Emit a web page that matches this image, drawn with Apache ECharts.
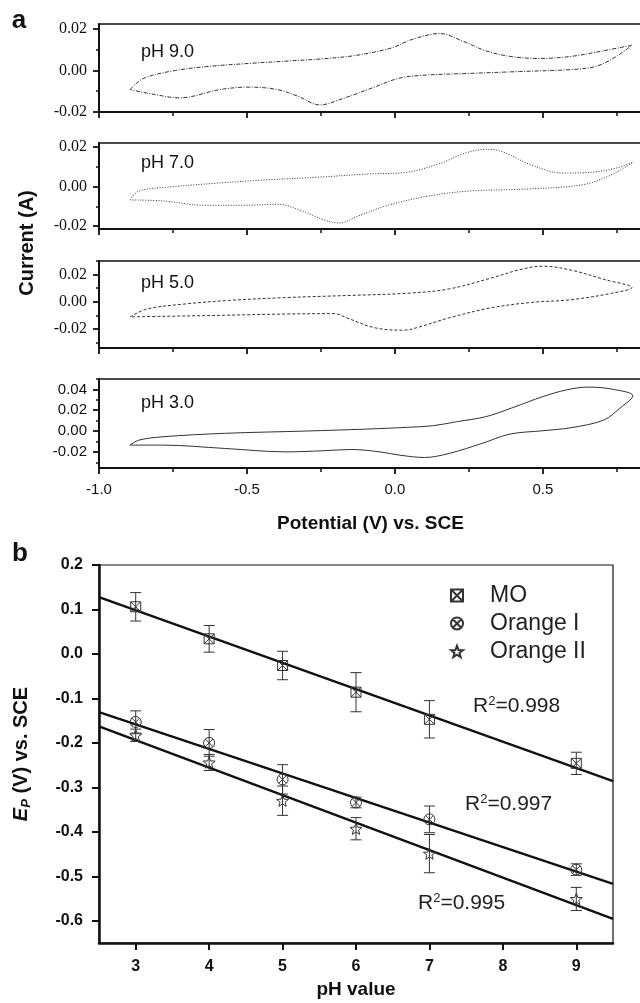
<!DOCTYPE html>
<html><head><meta charset="utf-8">
<script src="https://cdn.jsdelivr.net/npm/echarts@6/dist/echarts.min.js"></script>
<style>html,body{margin:0;padding:0;background:#fff}#c{width:640px;height:1003px}</style>
</head><body><div id="c"></div>
<script>
// ---------- Panel a: cyclic voltammograms [potential V, current A], loop order ----------
const cvPH9 = [[-0.895,-0.0092],[-0.851,-0.0039],[-0.742,0.0000],[-0.618,0.0021],[-0.493,0.0034],[-0.368,0.0045],[-0.247,0.0056],[-0.135,0.0072],[-0.010,0.0109],[0.057,0.0149],[0.152,0.0178],[0.230,0.0141],[0.311,0.0093],[0.399,0.0066],[0.490,0.0058],[0.601,0.0069],[0.716,0.0098],[0.801,0.0122],
  [0.750,0.0069],[0.682,0.0021],[0.601,0.0005],[0.422,-0.0005],[0.253,-0.0014],[0.084,-0.0024],[0.007,-0.0040],[-0.084,-0.0088],[-0.186,-0.0140],[-0.253,-0.0166],[-0.328,-0.0124],[-0.397,-0.0092],[-0.493,-0.0080],[-0.591,-0.0092],[-0.728,-0.0132],[-0.811,-0.0116],[-0.895,-0.0092]];
const cvPH7 = [[-0.895,-0.0068],[-0.865,-0.0023],[-0.757,-0.0002],[-0.618,0.0015],[-0.453,0.0032],[-0.260,0.0047],[-0.094,0.0063],[0.044,0.0073],[0.155,0.0118],[0.236,0.0168],[0.307,0.0188],[0.361,0.0177],[0.459,0.0110],[0.568,0.0068],[0.666,0.0072],[0.747,0.0093],[0.804,0.0122],
  [0.733,0.0060],[0.638,0.0010],[0.459,-0.0012],[0.250,-0.0023],[0.115,-0.0048],[-0.024,-0.0095],[-0.122,-0.0148],[-0.189,-0.0185],[-0.247,-0.0165],[-0.314,-0.0123],[-0.397,-0.0090],[-0.507,-0.0095],[-0.645,-0.0095],[-0.784,-0.0073],[-0.895,-0.0068]];
const cvPH5 = [[-0.895,-0.0111],[-0.838,-0.0053],[-0.713,-0.0017],[-0.562,0.0010],[-0.368,0.0031],[-0.162,0.0046],[0.044,0.0063],[0.182,0.0094],[0.321,0.0172],[0.429,0.0240],[0.500,0.0262],[0.595,0.0233],[0.706,0.0165],[0.801,0.0104],
  [0.733,0.0063],[0.595,0.0015],[0.459,-0.0005],[0.321,-0.0046],[0.182,-0.0119],[0.084,-0.0184],[0.030,-0.0209],[-0.066,-0.0192],[-0.162,-0.0119],[-0.203,-0.0087],[-0.368,-0.0090],[-0.576,-0.0099],[-0.784,-0.0107],[-0.895,-0.0111]];
const cvPH3 = [[-0.895,-0.0135],[-0.865,-0.0087],[-0.784,-0.0055],[-0.576,-0.0022],[-0.301,0.0000],[-0.095,0.0019],[0.044,0.0036],[0.128,0.0051],[0.209,0.0090],[0.307,0.0138],[0.402,0.0229],[0.500,0.0331],[0.581,0.0396],[0.652,0.0422],[0.733,0.0403],[0.804,0.0338],
  [0.760,0.0219],[0.706,0.0106],[0.595,0.0032],[0.500,0.0003],[0.389,-0.0029],[0.294,-0.0119],[0.182,-0.0216],[0.100,-0.0254],[0.017,-0.0232],[-0.051,-0.0200],[-0.149,-0.0177],[-0.247,-0.0190],[-0.368,-0.0200],[-0.576,-0.0167],[-0.784,-0.0135],[-0.895,-0.0135]];
const cvLabels = ['pH 9.0','pH 7.0','pH 5.0','pH 3.0'];
const cvYRange = [[-0.02,0.0224],[-0.0215,0.022],[-0.034,0.03],[-0.0355,0.05]];
const cvYMajor = [[-0.02,0,0.02],[-0.02,0,0.02],[-0.02,0,0.02],[-0.02,0,0.02,0.04]];
const cvYMinor = [[-0.01,0.01],[-0.01,0.01],[-0.03,-0.01,0.01,0.03],[-0.03,-0.01,0.01,0.03,0.05]];
const potMajor = [-1.0,-0.5,0.0,0.5];
const potMinor = [-0.75,-0.25,0.25,0.75];
const potRange = [-1.0, 0.835];

// ---------- Panel b: peak potential vs pH ----------
const pHValues = [3,4,5,6,7,9];
const moEp = [0.106,0.034,-0.026,-0.086,-0.147,-0.246];
const moErr = [0.032,0.030,0.032,0.044,0.042,0.025];
const orange1Ep = [-0.153,-0.200,-0.282,-0.334,-0.372,-0.485];
const orange1Err = [0.025,0.030,0.033,0.012,0.030,0.013];
const orange2Ep = [-0.183,-0.244,-0.330,-0.393,-0.449,-0.551];
const orange2Err = [0.014,0.018,0.033,0.025,0.043,0.026];
const fitPH = [2.5, 9.5];
const moFit = [0.128,-0.286];
const orange1Fit = [-0.131,-0.517];
const orange2Fit = [-0.163,-0.596];
const epTicks = [-0.6,-0.5,-0.4,-0.3,-0.2,-0.1,0.0,0.1,0.2];
const phTicks = [3,4,5,6,7,8,9];
const r2Labels = ['R{s|2}=0.998','R{s|2}=0.997','R{s|2}=0.995'];

// ---------- build ----------
const SANS = '"Liberation Sans", Arial, sans-serif';
const SERIF = '"Liberation Serif", "Times New Roman", serif';
const INK = '#111';
const chart = echarts.init(document.getElementById('c'), null, {renderer:'canvas'});

const gridTops = [[24,88],[143,86],[261,87],[379,89]];
const grids = gridTops.map(g => ({left:99, right:-2, top:g[0], height:g[1], show:true,
  borderColor:INK, borderWidth:1.4, backgroundColor:'transparent', outerBoundsMode:'none', containLabel:false}));
grids.push({left:99, width:514, top:565, height:378, show:true, borderColor:INK, borderWidth:1.2,
  backgroundColor:'transparent', outerBoundsMode:'none', containLabel:false});

const xAxes = [], yAxes = [];
for (let i = 0; i < 4; i++) {
  const last = i === 3;
  xAxes.push({gridIndex:i, type:'value', min:potRange[0], max:potRange[1], position:'bottom',
    axisLine:{show:true, onZero:false, lineStyle:{color:INK, width:2.2}},
    axisTick:{show:true, length:6, customValues:potMajor, lineStyle:{color:INK, width:1.8}},
    axisLabel:{show:last, customValues:potMajor, formatter:v=>v.toFixed(1), margin:14,
      fontFamily:SANS, fontSize:15, color:INK},
    splitLine:{show:false},
    name: last ? 'Potential (V) vs. SCE' : '', nameLocation:'middle', nameGap:46,
    nameTextStyle:{fontFamily:SANS, fontSize:19, fontWeight:'bold', color:INK}});
  xAxes.push({gridIndex:i, type:'value', min:potRange[0], max:potRange[1], position:'bottom',
    axisLine:{show:false, onZero:false}, axisTick:{show:true, length:4, customValues:potMinor, lineStyle:{color:INK, width:1.5}},
    axisLabel:{show:false}, splitLine:{show:false}});
  yAxes.push({gridIndex:i, type:'value', min:cvYRange[i][0], max:cvYRange[i][1], position:'left',
    axisLine:{show:true, onZero:false, lineStyle:{color:INK, width:2}},
    axisTick:{show:true, length:6, customValues:cvYMajor[i], lineStyle:{color:INK, width:1.8}},
    axisLabel:{show:true, customValues:cvYMajor[i], formatter:v=>v.toFixed(2), margin:12,
      fontFamily: last ? SANS : SERIF, fontSize: last ? 15 : 16, color:INK},
    splitLine:{show:false}});
  yAxes.push({gridIndex:i, type:'value', min:cvYRange[i][0], max:cvYRange[i][1], position:'left',
    axisLine:{show:false, onZero:false}, axisTick:{show:true, length:3, customValues:cvYMinor[i], lineStyle:{color:INK, width:1.5}},
    axisLabel:{show:false}, splitLine:{show:false}});
}
xAxes.push({gridIndex:4, type:'value', min:2.5, max:9.5, position:'bottom',
  axisLine:{show:true, onZero:false, lineStyle:{color:INK, width:2.5}},
  axisTick:{show:true, length:7, customValues:phTicks, lineStyle:{color:INK, width:2}},
  axisLabel:{customValues:phTicks, formatter:v=>String(v), margin:16, fontFamily:SANS, fontSize:16, fontWeight:'bold', color:INK},
  splitLine:{show:false},
  name:'pH value', nameLocation:'middle', nameGap:37,
  nameTextStyle:{fontFamily:SANS, fontSize:19, fontWeight:'bold', color:INK}});
yAxes.push({gridIndex:4, type:'value', min:-0.65, max:0.2, position:'left',
  axisLine:{show:true, onZero:false, lineStyle:{color:INK, width:2.5}},
  axisTick:{show:true, length:7, customValues:epTicks, lineStyle:{color:INK, width:2}},
  axisLabel:{customValues:epTicks, formatter:v=>v.toFixed(1), margin:16, fontFamily:SANS, fontSize:16, fontWeight:'bold', color:INK},
  splitLine:{show:false},
  name:'{i|E}{s|P} (V) vs. SCE', nameLocation:'middle', nameGap:66,
  nameTextStyle:{fontFamily:SANS, fontSize:20, fontWeight:'bold', color:INK,
    rich:{i:{fontFamily:SANS, fontSize:20, fontWeight:'bold', fontStyle:'italic', color:INK},
          s:{fontFamily:SANS, fontSize:13, fontWeight:'bold', fontStyle:'italic', color:INK, verticalAlign:'bottom', padding:[10,0,0,0]}}}});

const cvData = [cvPH9, cvPH7, cvPH5, cvPH3];
const cvDash = [[4,1.5,1,1.5],[1,1.6],[3,2],'solid'];
const series = [];
cvData.forEach((d, i) => {
  series.push({type:'line', name:cvLabels[i], xAxisIndex:2*i, yAxisIndex:2*i, data:d,
    smooth:0.35, symbol:'none', silent:true, clip:true,
    lineStyle:{color:'#333', width:1, type:cvDash[i]}});
});

const SYM_SQ = 'path://M0,0L20,0L20,20L0,20Z M0,0L20,20 M20,0L0,20';
const SYM_CI = 'path://M20,10A10,10,0,1,1,0,10A10,10,0,1,1,20,10Z M2.93,2.93L17.07,17.07 M17.07,2.93L2.93,17.07';
const SYM_ST = 'path://M10,0L12.47,6.6L19.51,6.91L13.99,11.3L15.88,18.09L10,14.2L4.12,18.09L6.01,11.3L0.49,6.91L7.53,6.6Z';

const groups = [
  {name:'MO', ep:moEp, err:moErr, fit:moFit, sym:SYM_SQ, size:10},
  {name:'Orange I', ep:orange1Ep, err:orange1Err, fit:orange1Fit, sym:SYM_CI, size:11},
  {name:'Orange II', ep:orange2Ep, err:orange2Err, fit:orange2Fit, sym:SYM_ST, size:12}
];
groups.forEach(g => {
  series.push({type:'line', name:g.name+' fit', xAxisIndex:8, yAxisIndex:8,
    data:fitPH.map((p,k)=>[p, g.fit[k]]), symbol:'none', silent:true,
    lineStyle:{color:INK, width:2.4}, z:2});
  series.push({type:'custom', name:g.name+' err', xAxisIndex:8, yAxisIndex:8,
    data:pHValues.map((p,k)=>[p, g.ep[k], g.err[k]]), silent:true, z:3,
    renderItem:(params, api) => {
      const x = api.value(0), y = api.value(1), e = api.value(2);
      const t = api.coord([x, y+e]), b = api.coord([x, y-e]);
      const hw = 5.5, st = {stroke:'#333', lineWidth:1};
      return {type:'group', children:[
        {type:'line', shape:{x1:t[0], y1:t[1], x2:b[0], y2:b[1]}, style:st},
        {type:'line', shape:{x1:t[0]-hw, y1:t[1], x2:t[0]+hw, y2:t[1]}, style:st},
        {type:'line', shape:{x1:b[0]-hw, y1:b[1], x2:b[0]+hw, y2:b[1]}, style:st}
      ]};
    }});
  series.push({type:'scatter', name:g.name, xAxisIndex:8, yAxisIndex:8,
    data:pHValues.map((p,k)=>[p, g.ep[k]]), symbol:g.sym, symbolSize:g.size, symbolKeepAspect:true,
    itemStyle:{color:'rgba(255,255,255,0)', borderColor:'#333', borderWidth:1, opacity:1}, z:4});
});

const rich = {s:{fontFamily:SANS, fontSize:13, color:'#222', verticalAlign:'top', padding:[0,0,10,0]}};
const txt = (x, y, text, opt) => Object.assign({type:'text', x:x, y:y, silent:true,
  style:Object.assign({text:text, fill:INK, fontFamily:SANS, align:'left', verticalAlign:'middle',
    textAlign:'left', textVerticalAlign:'middle'}, opt.style || {})}, opt.el || {});

const graphic = [
  txt(19, 21, 'a', {style:{fontSize:26, fontWeight:'bold', align:'center', textAlign:'center'}}),
  txt(20, 554, 'b', {style:{fontSize:26, fontWeight:'bold', align:'center', textAlign:'center'}}),
  txt(27, 243, 'Current (A)', {style:{fontSize:20, fontWeight:'bold', align:'center', textAlign:'center'}, el:{rotation:Math.PI/2}}),
  txt(141, 52, cvLabels[0], {style:{fontSize:18}}),
  txt(141, 163, cvLabels[1], {style:{fontSize:18}}),
  txt(141, 283, cvLabels[2], {style:{fontSize:18}}),
  txt(141, 403, cvLabels[3], {style:{fontSize:18}}),
  txt(473, 706, r2Labels[0], {style:{fontSize:21, fill:'#222', rich:rich}}),
  txt(465, 804, r2Labels[1], {style:{fontSize:21, fill:'#222', rich:rich}}),
  txt(418, 903, r2Labels[2], {style:{fontSize:21, fill:'#222', rich:rich}})
];

chart.setOption({
  animation:false,
  backgroundColor:'#fff',
  grid:grids, xAxis:xAxes, yAxis:yAxes, series:series,
  legend:{orient:'vertical', left:450, top:584, padding:0, itemGap:5, itemWidth:12, itemHeight:12,
    data:['MO','Orange I','Orange II'], selectedMode:false,
    textStyle:{fontFamily:SANS, fontSize:23, color:'#222', padding:[0,0,0,22]}},
  graphic:graphic
});
</script></body></html>
